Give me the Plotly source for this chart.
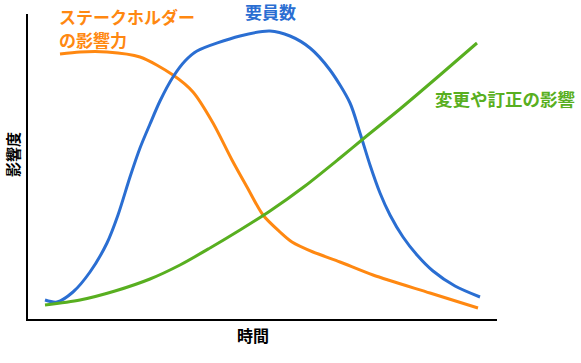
import plotly.graph_objects as go

# Data (x: time units, y: influence units)
stake_x = [32, 52, 79, 112, 145, 165, 185, 204, 219, 235, 252, 264, 285, 312, 345, 402, 450]
stake_y = [265, 267, 267, 262, 244, 227, 196, 159, 132, 104, 87, 77, 67, 57, 44, 26, 11]

staff_x = [17, 29, 45, 62, 79, 90, 102, 112, 122, 132, 145, 157, 169, 212, 242, 262, 282, 302, 322, 332, 342, 352, 362, 375, 389, 405, 427, 452]
staff_y = [19, 17, 27, 47, 76, 104, 142, 171, 195, 218, 242, 258, 268, 283, 288, 283, 271, 249, 216, 186, 154, 126, 104, 82, 64, 48, 33, 22]

change_x = [17, 52, 87, 122, 152, 182, 212, 242, 277, 312, 335, 372, 412, 449]
change_y = [14, 19, 28, 40, 54, 71, 89, 108, 133, 161, 180, 210, 244, 276]

orange = "rgb(255,136,17)"
blue = "rgb(42,110,210)"
green = "rgb(88,175,32)"
font = "Noto Sans CJK JP"

fig = go.Figure()
fig.add_trace(go.Scatter(x=stake_x, y=stake_y, mode="lines",
                         line=dict(color=orange, width=3, shape="spline", smoothing=0.8)))
fig.add_trace(go.Scatter(x=staff_x, y=staff_y, mode="lines",
                         line=dict(color=blue, width=3, shape="spline", smoothing=0.8)))
fig.add_trace(go.Scatter(x=change_x, y=change_y, mode="lines",
                         line=dict(color=green, width=3, shape="spline", smoothing=0.8)))

W, H = 581, 363
L, R, T, B = 28, 84, 14, 44
pw, ph = W - L - R, H - T - B

def px(x):
    return (x - L) / pw

def py(y):
    return (H - B - y) / ph

fig.update_layout(
    width=W, height=H,
    margin=dict(l=L, r=R, t=T, b=B, pad=0, autoexpand=False),
    paper_bgcolor="white", plot_bgcolor="white",
    showlegend=False,
    font=dict(family=font, color="black"),
    xaxis=dict(range=[0, pw], showgrid=False, zeroline=False, showticklabels=False,
               ticks="", showline=True, linecolor="black", linewidth=2, automargin=False),
    yaxis=dict(range=[0, ph], showgrid=False, zeroline=False, showticklabels=False,
               ticks="", showline=True, linecolor="black", linewidth=2, automargin=False),
    annotations=[
        dict(xref="paper", yref="paper", x=px(253), y=py(335), xanchor="center", yanchor="middle",
             showarrow=False, text="<b>時間</b>",
             font=dict(size=16, color="black", family=font)),
        dict(xref="paper", yref="paper", x=px(12), y=py(155), xanchor="center", yanchor="middle",
             showarrow=False, text="<b>影響度</b>", textangle=-90,
             font=dict(size=15, color="black", family=font)),
        dict(xref="paper", yref="paper", x=px(58), y=py(16), xanchor="left", yanchor="middle",
             showarrow=False, text="<b>ステークホルダー</b>", borderpad=0,
             font=dict(size=17, color=orange, family=font)),
        dict(xref="paper", yref="paper", x=px(58), y=py(39.5), xanchor="left", yanchor="middle",
             showarrow=False, text="<b>の影響力</b>", borderpad=0,
             font=dict(size=17, color=orange, family=font)),
        dict(xref="paper", yref="paper", x=px(270), y=py(11.5), xanchor="center", yanchor="middle",
             showarrow=False, text="<b>要員数</b>",
             font=dict(size=17, color=blue, family=font)),
        dict(xref="paper", yref="paper", x=px(505), y=py(99), xanchor="center", yanchor="middle",
             showarrow=False, text="<b>変更や訂正の影響</b>",
             font=dict(size=17.5, color=green, family=font)),
    ],
)

fig.write_html("out.html")
